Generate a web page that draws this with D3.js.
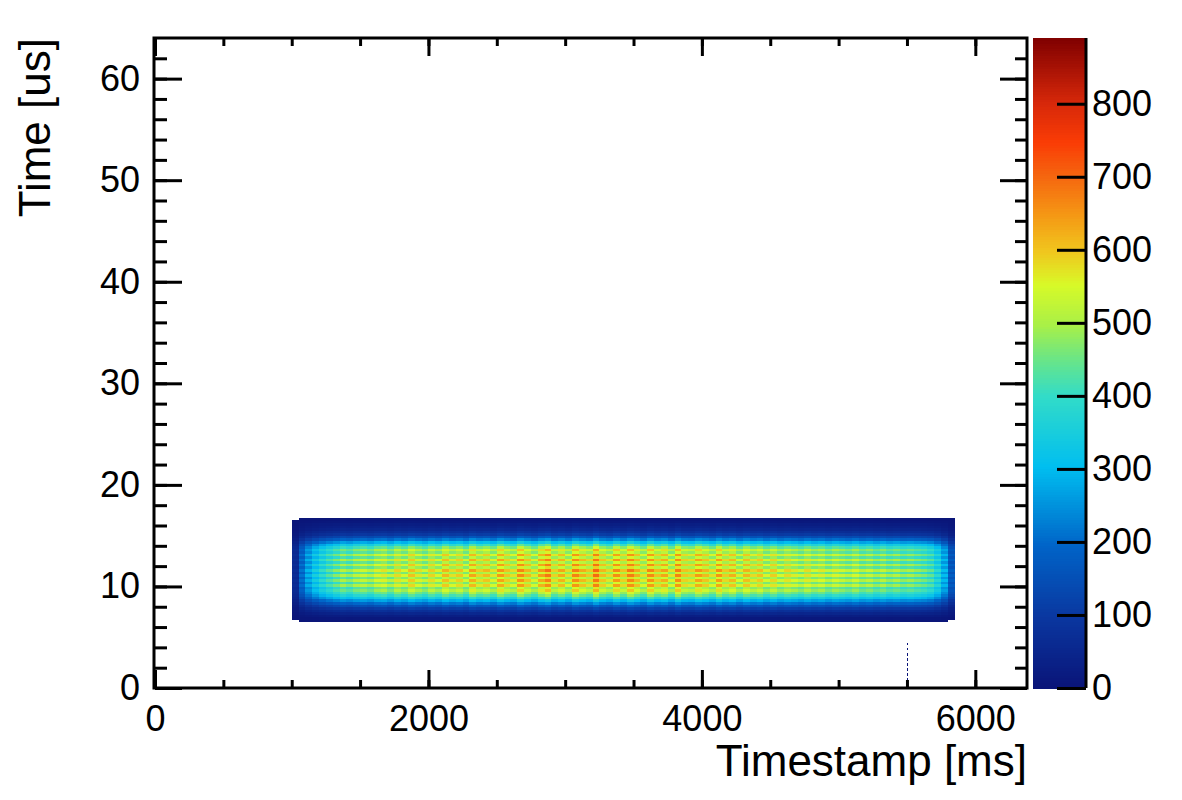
<!DOCTYPE html>
<html>
<head>
<meta charset="utf-8">
<script src="https://cdn.jsdelivr.net/npm/d3@7"></script>
<style>
  body { margin: 0; background: #fff; }
  text { font-family: "Liberation Sans", Arial, Helvetica, sans-serif; fill: #000; }
</style>
</head>
<body>
<div id="chart"></div>
<script>
// time profile (counts per 0.25 us row, around t = 3000 ms), rows start at 6.5 us
var rowStart = 6.5, rowStep = 0.25;
var timeProfile = [
  3, 12, 30, 55, 85, 120, 170, 230, 300, 380,
  440, 490, 540, 500, 590, 510, 600, 520, 610, 515,
  615, 520, 605, 510, 600, 505, 590, 500, 550, 480,
  410, 320, 230, 160, 110, 80, 55, 40, 28, 14,
  5, 0
];

// relative intensity per 50 ms timestamp bin, bins start at 1000 ms
var binStart = 1000, binStep = 50;
var stampFactor = [
  0.12, 0.35, 0.48, 0.58, 0.66, 0.72, 0.78, 0.84, 0.80, 0.86,
  0.88, 0.84, 0.91, 0.93, 0.86, 0.95, 0.90, 0.99, 0.93, 0.88,
  0.96, 0.91, 1.01, 0.94, 0.98, 0.90, 1.04, 0.96, 1.00, 0.93,
  1.06, 0.98, 0.94, 1.09, 1.00, 0.93, 1.05, 1.12, 0.96, 1.03,
  0.94, 1.10, 1.02, 0.97, 1.14, 1.00, 0.95, 1.08, 0.98, 1.11,
  1.02, 0.94, 1.09, 0.99, 1.04, 0.93, 1.10, 0.98, 0.96, 1.06,
  1.00, 0.94, 1.07, 0.97, 1.02, 0.92, 1.01, 0.95, 0.99, 0.91,
  0.97, 0.90, 0.95, 0.92, 0.88, 0.94, 0.89, 0.92, 0.86, 0.91,
  0.88, 0.85, 0.90, 0.84, 0.87, 0.82, 0.86, 0.81, 0.84, 0.80,
  0.82, 0.79, 0.77, 0.73, 0.64, 0.50, 0.30
];

// stray entries near 5500 ms, low times
var strayStamp = 5500;
var strayTimes = [0.2, 0.7, 1.2, 1.7, 2.2, 2.7, 3.2, 3.7, 4.2];

var xTicksMajor = [0, 2000, 4000, 6000];
var yTicksMajor = [0, 10, 20, 30, 40, 50, 60];
var zTicks = [0, 100, 200, 300, 400, 500, 600, 700, 800];
var zMax = 890;

var W = 1182, H = 800;
var svg = d3.select("#chart").append("svg")
  .attr("width", W).attr("height", H);

var x_scale = d3.scaleLinear().domain([0, 6378]).range([155, 1027]);
var y_scale = d3.scaleLinear().domain([0, 64]).range([688, 38]);
var z_scale = d3.scaleLinear().domain([0, zMax]).range([688, 38]);

// palette
var palStops = [0, 0.11, 0.22, 0.34, 0.45, 0.51, 0.56, 0.62, 0.67, 0.73, 0.79, 0.84, 0.90, 1];
var palColors = ["#0a1478", "#0a37a0", "#0064c8", "#00bef0", "#32dcc8", "#6ee682", "#aaf046",
  "#d7fa28", "#f0c81e", "#f59614", "#f5640f", "#fa3c05", "#d7280a", "#800000"];
var color = d3.scaleLinear()
  .domain(palStops.map(function(s) { return s * zMax; }))
  .range(palColors)
  .interpolate(d3.interpolateRgb)
  .clamp(true);

// cells
var cells = [];
stampFactor.forEach(function(f, j) {
  timeProfile.forEach(function(c, i) {
    var v = c * f;
    if (v >= 1) cells.push({ t0: binStart + j * binStep, y0: rowStart + i * rowStep, v: v });
  });
});

var plot = svg.append("g").attr("shape-rendering", "crispEdges");
plot.selectAll("rect.cell")
  .data(cells)
  .enter().append("rect")
  .attr("class", "cell")
  .attr("x", function(d) { return x_scale(d.t0); })
  .attr("width", function(d) { return x_scale(d.t0 + binStep) - x_scale(d.t0) + 0.3; })
  .attr("y", function(d) { return y_scale(d.y0 + rowStep); })
  .attr("height", function(d) { return y_scale(d.y0) - y_scale(d.y0 + rowStep) + 0.3; })
  .attr("fill", function(d) { return color(d.v); });

plot.selectAll("rect.stray")
  .data(strayTimes)
  .enter().append("rect")
  .attr("x", x_scale(strayStamp))
  .attr("width", 1.5)
  .attr("y", function(d) { return y_scale(d + 0.25); })
  .attr("height", function(d) { return y_scale(d) - y_scale(d + 0.25); })
  .attr("fill", color(1));

// axes
function style(g) {
  g.select(".domain").remove();
  g.selectAll(".tick line").attr("stroke", "#000").attr("stroke-width", 3);
  g.selectAll(".tick text").attr("font-size", 36).attr("font-family", "Liberation Sans, Arial, sans-serif");
}
var fmt = d3.format("d");

svg.append("g").attr("transform", "translate(0,688)")
  .call(d3.axisBottom(x_scale).tickValues(xTicksMajor).tickFormat(fmt).tickSize(-18).tickSizeOuter(0).tickPadding(17))
  .call(style);
svg.append("g").attr("transform", "translate(0,688)")
  .call(d3.axisBottom(x_scale).tickValues(d3.range(500, 6378, 500)).tickSize(-8).tickSizeOuter(0).tickFormat(""))
  .call(style);
svg.append("g").attr("transform", "translate(0,38)")
  .call(d3.axisTop(x_scale).tickValues(xTicksMajor).tickSize(-18).tickSizeOuter(0).tickFormat(""))
  .call(style);
svg.append("g").attr("transform", "translate(0,38)")
  .call(d3.axisTop(x_scale).tickValues(d3.range(500, 6378, 500)).tickSize(-8).tickSizeOuter(0).tickFormat(""))
  .call(style);

svg.append("g").attr("transform", "translate(155,0)")
  .call(d3.axisLeft(y_scale).tickValues(yTicksMajor).tickFormat(fmt).tickSize(-27).tickSizeOuter(0).tickPadding(15))
  .call(style);
svg.append("g").attr("transform", "translate(155,0)")
  .call(d3.axisLeft(y_scale).tickValues(d3.range(2, 64, 2)).tickSize(-12).tickSizeOuter(0).tickFormat(""))
  .call(style);
svg.append("g").attr("transform", "translate(1027,0)")
  .call(d3.axisRight(y_scale).tickValues(yTicksMajor).tickSize(-27).tickSizeOuter(0).tickFormat(""))
  .call(style);
svg.append("g").attr("transform", "translate(1027,0)")
  .call(d3.axisRight(y_scale).tickValues(d3.range(2, 64, 2)).tickSize(-12).tickSizeOuter(0).tickFormat(""))
  .call(style);

// frame
svg.append("rect")
  .attr("x", 154).attr("y", 38)
  .attr("width", 1027 - 154).attr("height", 688 - 38)
  .attr("fill", "none").attr("stroke", "#000").attr("stroke-width", 3);

// colour bar
var barX0 = 1033, barX1 = 1086;
var levels = d3.range(0, 255).map(function(k) { return k * zMax / 255; });
svg.append("g").attr("shape-rendering", "crispEdges")
  .selectAll("rect")
  .data(levels)
  .enter().append("rect")
  .attr("x", barX0)
  .attr("width", barX1 - barX0)
  .attr("y", function(d) { return z_scale(d + zMax / 255); })
  .attr("height", function(d) { return z_scale(d) - z_scale(d + zMax / 255) + 0.5; })
  .attr("fill", function(d) { return color(d + zMax / 510); });

svg.append("line")
  .attr("x1", barX1).attr("x2", barX1).attr("y1", 38).attr("y2", 688)
  .attr("stroke", "#000").attr("stroke-width", 3);
svg.append("g").attr("transform", "translate(" + barX1 + ",0)")
  .call(d3.axisRight(z_scale).tickValues(zTicks).tickFormat(fmt).tickSize(-29).tickSizeOuter(0).tickPadding(6))
  .call(style);

// titles
svg.append("text")
  .attr("x", 1027).attr("y", 776)
  .attr("text-anchor", "end")
  .attr("font-size", 44)
  .text("Timestamp [ms]");
svg.append("text")
  .attr("transform", "translate(50,38) rotate(-90)")
  .attr("text-anchor", "end")
  .attr("font-size", 44)
  .text("Time [us]");
</script>
</body>
</html>
